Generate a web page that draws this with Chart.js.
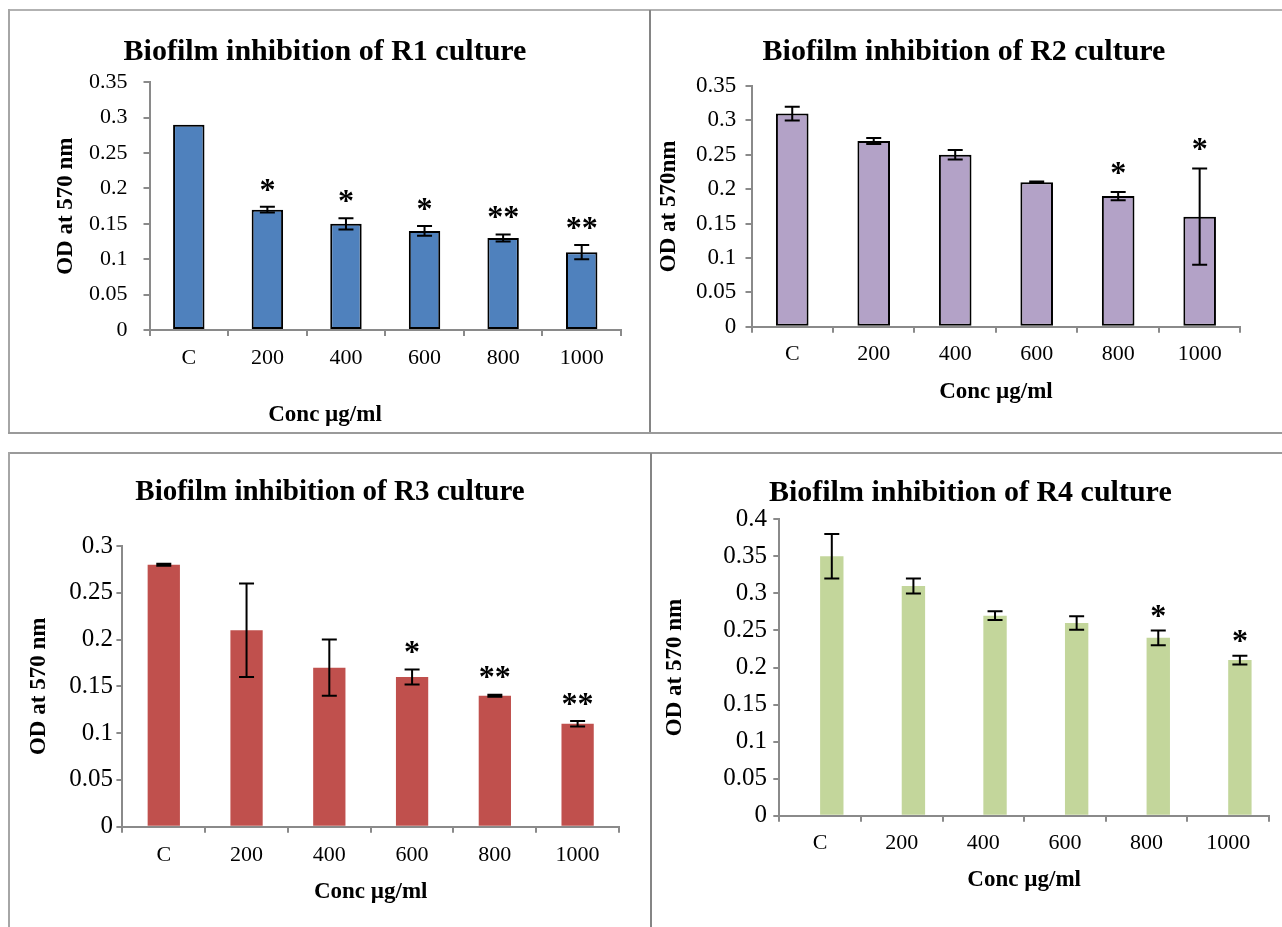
<!DOCTYPE html>
<html>
<head>
<meta charset="utf-8">
<script src="https://cdn.jsdelivr.net/npm/chart.js@4.4.1/dist/chart.umd.min.js"></script>
<style>
  html, body { margin: 0; padding: 0; background: #fff; }
  body { width: 1282px; height: 927px; position: relative; overflow: hidden; }
  canvas { position: absolute; }
  .rule { position: absolute; background: #9c9c9c; }
</style>
</head>
<body>
<!-- panel frames -->
<div class="rule" style="left:8px;top:9px;width:1274px;height:2px;background:#b2b2b2"></div>
<div class="rule" style="left:8px;top:9px;width:2px;height:425px;background:#a6a6a6"></div>
<div class="rule" style="left:649px;top:10px;width:2px;height:423px;background:#858585"></div>
<div class="rule" style="left:8px;top:432px;width:1274px;height:2px;background:#9a9a9a"></div>
<div class="rule" style="left:8px;top:452px;width:1274px;height:2px;background:#9a9a9a"></div>
<div class="rule" style="left:8px;top:452px;width:2px;height:475px;background:#a6a6a6"></div>
<div class="rule" style="left:650px;top:453px;width:2px;height:474px;background:#858585"></div>

<script>
// ---- data ----
const categories = ['C', '200', '400', '600', '800', '1000'];

const r1Means  = [0.29, 0.17, 0.15, 0.14, 0.13, 0.11];
const r1Errors = [0, 0.004, 0.008, 0.007, 0.005, 0.01];
const r1Marks  = ['', '*', '*', '*', '**', '**'];

const r2Means  = [0.31, 0.27, 0.25, 0.21, 0.19, 0.16];
const r2Errors = [0.01, 0.0045, 0.007, 0.001, 0.006, 0.07];
const r2Marks  = ['', '', '', '', '*', '*'];

const r3Means  = [0.28, 0.21, 0.17, 0.16, 0.14, 0.11];
const r3Errors = [0.001, 0.05, 0.03, 0.008, 0.001, 0.003];
const r3Marks  = ['', '', '', '*', '**', '**'];

const r4Spacer = [null, null, null, null, null, null];
const r4Means  = [0.35, 0.31, 0.27, 0.26, 0.24, 0.21];
const r4Errors = [0.03, 0.01, 0.006, 0.009, 0.01, 0.006];
const r4Marks  = ['', '', '', '', '*', '*'];

const yMaxR1 = 0.35, yMaxR2 = 0.35, yMaxR3 = 0.3, yMaxR4 = 0.4;
const yStep = 0.05;

// ---- styling ----
const FONT = "'Liberation Serif', 'Times New Roman', Times, serif";
const AXIS = '#8a8a8a';
const TICK_LEN = 6;

// error bars and significance stars, drawn from the y scale
const errorBars = {
  id: 'errorBars',
  afterDatasetsDraw(chart, args, o) {
    const { ctx } = chart;
    const yScale = chart.scales.y;
    chart.data.datasets.forEach((ds, di) => {
      if (!ds.errors) return;
      const meta = chart.getDatasetMeta(di);
      ctx.save();
      ctx.strokeStyle = '#000';
      ctx.fillStyle = '#000';
      ctx.lineWidth = 2;
      ctx.font = 'bold ' + o.markSize + 'px ' + FONT;
      ctx.textAlign = 'center';
      ctx.textBaseline = 'alphabetic';
      meta.data.forEach((bar, i) => {
        const v = ds.data[i];
        const e = ds.errors[i];
        let top = yScale.getPixelForValue(v);
        if (e > 0) {
          top = yScale.getPixelForValue(v + e);
          const bot = yScale.getPixelForValue(v - e);
          const h = o.cap / 2;
          ctx.beginPath();
          ctx.moveTo(bar.x, top); ctx.lineTo(bar.x, bot);
          ctx.moveTo(bar.x - h, top); ctx.lineTo(bar.x + h, top);
          ctx.moveTo(bar.x - h, bot); ctx.lineTo(bar.x + h, bot);
          ctx.stroke();
        }
        const mark = ds.marks && ds.marks[i];
        if (mark) ctx.fillText(mark, bar.x, top - o.gap + o.markSize * 0.46);
      });
      ctx.restore();
    });
  }
};

function makePanel(p) {
  const cv = document.createElement('canvas');
  cv.width = p.box.w; cv.height = p.box.h;
  cv.style.left = p.box.x + 'px'; cv.style.top = p.box.y + 'px';
  cv.style.width = p.box.w + 'px'; cv.style.height = p.box.h + 'px';
  document.body.appendChild(cv);

  // plot area in canvas coordinates
  const L = p.plot.l - p.box.x, R = p.plot.r - p.box.x;
  const T = p.plot.t - p.box.y, B = p.plot.b - p.box.y;
  const tcx = p.title.cx - p.box.x, tcy = p.title.cy - p.box.y;

  const padL = 2 * tcx - R;           // chart title is centred over [padL, R]
  const padR = p.box.w - R;
  const yAxisW = L - padL;

  const tLH = p.title.size * 1.2;
  const yTitleLH = p.yTitle.size * 1.2;
  const xTitleLH = p.xTitle.size * 1.2;
  const xTickLH = p.xTick.size * 1.2;

  const titleFont = { family: FONT, size: p.title.size, weight: 'bold' };
  const xTitleFont = { family: FONT, size: p.xTitle.size, weight: 'bold' };

  let xAxisH, padB;
  let subtitle = { display: false };
  if (p.xTitle.free) {
    xAxisH = 45;
    const subTop = p.xTitle.dy - xAxisH - xTitleLH / 2;
    padB = p.box.h - (B + xAxisH + subTop + xTitleLH);
    subtitle = {
      display: true, position: 'bottom', text: p.xTitle.text, color: '#000',
      font: xTitleFont, padding: { top: subTop, bottom: 0 }
    };
  } else {
    xAxisH = p.xTitle.dy + xTitleLH / 2;
    padB = p.box.h - B - xAxisH;
  }

  const gridOpts = {
    display: true, drawOnChartArea: false, drawTicks: true,
    tickLength: TICK_LEN, color: AXIS, lineWidth: 2
  };

  return new Chart(cv, {
    type: 'bar',
    data: { labels: categories, datasets: p.datasets },
    options: {
      responsive: false,
      animation: false,
      devicePixelRatio: 1,
      events: [],
      layout: { padding: { left: padL, right: padR, top: 0, bottom: padB } },
      datasets: { bar: { categoryPercentage: p.catPct, barPercentage: p.barPct } },
      plugins: {
        legend: { display: false },
        tooltip: { enabled: false },
        title: {
          display: true, text: p.title.text, color: '#000', font: titleFont,
          padding: { top: tcy - tLH / 2, bottom: T - tcy - tLH / 2 }
        },
        subtitle: subtitle,
        errorBars: { cap: 15, gap: p.markGap, markSize: 32 }
      },
      scales: {
        x: {
          border: { display: true, color: AXIS, width: 2 },
          grid: Object.assign({ offset: true }, gridOpts),
          ticks: {
            color: '#000', font: { family: FONT, size: p.xTick.size },
            padding: p.xTick.dy - TICK_LEN - xTickLH / 2,
            maxRotation: 0, autoSkip: false
          },
          title: {
            display: !p.xTitle.free, text: p.xTitle.text, color: '#000',
            font: xTitleFont, padding: { top: 0, bottom: 0 }
          },
          afterFit: s => { s.height = xAxisH; }
        },
        y: {
          min: 0, max: p.yMax,
          border: { display: true, color: AXIS, width: 2 },
          grid: gridOpts,
          ticks: {
            stepSize: yStep, color: '#000',
            font: { family: FONT, size: p.yTick.size },
            padding: p.yTick.gap - TICK_LEN,
            callback: v => String(+Number(v).toFixed(2))
          },
          title: {
            display: true, text: p.yTitle.text, color: '#000',
            font: { family: FONT, size: p.yTitle.size, weight: 'bold' },
            padding: { top: (p.yTitle.cx - p.box.x) - padL - yTitleLH / 2, bottom: 0 }
          },
          afterFit: s => { s.width = yAxisW; }
        }
      }
    },
    plugins: [errorBars]
  });
}

const xTitleText = 'Conc µg/ml';

makePanel({
  box: { x: 10, y: 12, w: 639, h: 420 },
  plot: { l: 149.5, r: 621, t: 82.3, b: 330 },
  title: { text: 'Biofilm inhibition of R1 culture', cx: 325, cy: 52, size: 30 },
  yTitle: { text: 'OD at 570 nm', cx: 66, size: 23 },
  yTick: { size: 22, gap: 22 },
  xTick: { size: 22, dy: 28 },
  xTitle: { text: xTitleText, size: 23, dy: 85, free: true },
  yMax: yMaxR1, catPct: 1, barPct: 0.4, markGap: 22,
  datasets: [{
    label: 'R1', data: r1Means, errors: r1Errors, marks: r1Marks,
    backgroundColor: '#4F81BD', borderColor: '#000', borderWidth: 2, borderSkipped: false
  }]
});

makePanel({
  box: { x: 652, y: 12, w: 630, h: 420 },
  plot: { l: 751.5, r: 1240.4, t: 86, b: 326.7 },
  title: { text: 'Biofilm inhibition of R2 culture', cx: 964, cy: 52, size: 30 },
  yTitle: { text: 'OD at 570nm', cx: 668.7, size: 23 },
  yTick: { size: 23, gap: 15.2 },
  xTick: { size: 22, dy: 27.3 },
  xTitle: { text: xTitleText, size: 23, dy: 65.3 },
  yMax: yMaxR2, catPct: 1, barPct: 0.4, markGap: 24,
  datasets: [{
    label: 'R2', data: r2Means, errors: r2Errors, marks: r2Marks,
    backgroundColor: '#B3A2C7', borderColor: '#000', borderWidth: 2, borderSkipped: false
  }]
});

makePanel({
  box: { x: 10, y: 455, w: 640, h: 472 },
  plot: { l: 122.4, r: 619, t: 546, b: 826.7 },
  title: { text: 'Biofilm inhibition of R3 culture', cx: 330, cy: 493, size: 29 },
  yTitle: { text: 'OD at 570 nm', cx: 39.4, size: 23 },
  yTick: { size: 25, gap: 9.5 },
  xTick: { size: 22, dy: 28.3 },
  xTitle: { text: xTitleText, size: 23, dy: 65.3 },
  yMax: yMaxR3, catPct: 1, barPct: 0.39, markGap: 22,
  datasets: [{
    label: 'R3', data: r3Means, errors: r3Errors, marks: r3Marks,
    backgroundColor: '#C0504D', borderWidth: 0
  }]
});

makePanel({
  box: { x: 653, y: 455, w: 629, h: 472 },
  plot: { l: 779.3, r: 1269, t: 519.3, b: 815.7 },
  title: { text: 'Biofilm inhibition of R4 culture', cx: 970.3, cy: 493, size: 30 },
  yTitle: { text: 'OD at 570 nm', cx: 674.8, size: 23 },
  yTick: { size: 25, gap: 12.3 },
  xTick: { size: 22, dy: 27.3 },
  xTitle: { text: xTitleText, size: 23, dy: 64.3 },
  yMax: yMaxR4, catPct: 0.573, barPct: 1, markGap: 19,
  datasets: [
    { label: 'Series1', data: r4Spacer, backgroundColor: 'rgba(0,0,0,0)', borderWidth: 0 },
    {
      label: 'R4', data: r4Means, errors: r4Errors, marks: r4Marks,
      backgroundColor: '#C3D69B', borderWidth: 0
    }
  ]
});
</script>
</body>
</html>
